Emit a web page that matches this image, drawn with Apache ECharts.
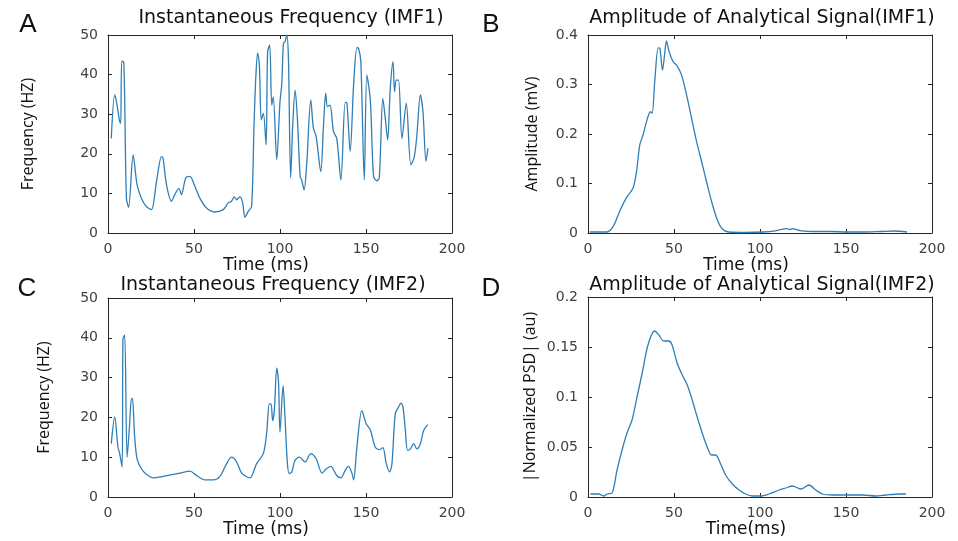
<!DOCTYPE html>
<html>
<head>
<meta charset="utf-8">
<script src="https://cdn.jsdelivr.net/npm/echarts@6/dist/echarts.min.js"></script>
<style>html,body{margin:0;padding:0;background:#fff}#c{width:958px;height:541px}</style>
</head>
<body>
<div id="c"></div>
<script>
// Panel A: Instantaneous Frequency (IMF1)
const timeA = [1.9,3.9,4.9,6.8,7.4,8.0,9.2,10.7,12.0,14.6,16.9,19.4,22.3,25.2,28.2,31.1,32,34,36.9,38.8,41.2,42.7,45.2,47.6,50.5,53.4,57.3,62.1,67.0,69.9,71.8,73.4,74.8,76.7,78.3,79.6,81.6,83.5,84.9,86.0,87.0,88.0,89.1,90.3,91.9,92.8,94.0,95.2,96.1,98.1,100.0,101.0,102.0,102.9,103.9,104.9,106.2,107.4,108.8,110.1,111.7,112.6,114.0,115.5,117.9,119.4,121.0,123.7,125.3,126.6,127.6,129.1,131.1,133.0,135.4,137.9,138.9,140.8,142.8,144.7,145.7,147.0,149.0,150.5,152.5,154.4,156.3,157.7,159.8,161.2,162.6,164.1,165.7,166.6,167.6,168.9,170.9,173.4,176.1,178.1,179.6,181.6,183.1,184.9,186.0];
const freqA = [23.9,34.9,33.2,28.1,27.7,43.4,43.1,8.8,6.5,19.7,12.2,8.8,6.7,5.9,13.0,19.3,18.9,12.2,8.0,9.7,11.2,9.7,13.9,14.3,11.8,8.8,6.3,5.3,5.9,7.6,8.0,9.1,8.4,9.2,7.6,4.0,5.5,6.7,27.3,39.9,45.4,42.4,28.6,30.2,22.3,45.8,47.5,32.3,34.4,18.5,33.2,37.4,47.9,48.3,50,44.1,13.9,27.3,36.1,29.0,14.3,13.4,10.9,17.2,33.6,26.5,24.4,15.5,27.3,35.3,31.9,32.3,25.6,23.9,13.4,33.0,32.8,20.6,37.4,46.8,46.6,43.3,13.4,39.9,33.6,14.3,13.2,13.9,34.0,29.0,23.5,36.5,43.3,35.7,38.6,38.6,23.9,32.8,17.2,19.3,24.8,34.9,30.7,18.1,21.4];

// Panel B: Amplitude of Analytical Signal (IMF1)
const timeB = [1,10.7,14.6,18.4,22.3,26.2,28.2,30.1,32.0,34.0,36.3,37.3,38.8,40.8,41.8,43.3,44.7,45.6,47.2,49.5,51.5,54.4,57.3,60.2,63.1,66.0,68.9,71.8,74.8,77.7,81.6,92.2,102,109.7,115.5,117.1,118.8,123.3,131,140.8,150.5,160.2,169.9,177.7,185.5];
const ampB = [0.002,0.002,0.013,0.044,0.071,0.091,0.124,0.178,0.198,0.225,0.245,0.242,0.306,0.374,0.373,0.329,0.366,0.388,0.366,0.346,0.339,0.319,0.279,0.232,0.185,0.145,0.104,0.064,0.030,0.010,0.002,0.001,0.002,0.005,0.009,0.007,0.009,0.005,0.003,0.003,0.002,0.002,0.003,0.004,0.002];

// Panel C: Instantaneous Frequency (IMF2)
const timeC = [1.9,3.9,5.8,6.8,8.2,8.7,9.7,11.1,12.6,13.6,14.2,15.5,16.9,19.4,22.3,26.2,32.0,41.8,47.6,51.5,56.3,61.2,65.1,69.0,71.8,74.8,77.7,82.5,86.4,90.3,92.2,93.8,94.8,95.7,96.7,98.1,99.1,100.0,101.8,102.9,104.3,105.4,106.8,108.7,111.2,114.6,117.9,121.0,124.5,127.0,129.5,133.0,135.4,137.9,139.8,141.8,142.8,144.7,147.6,150.1,152.5,155.4,157.9,159.8,161.8,163.7,165.1,167.0,168.9,170.3,171.5,172.9,174.2,175.8,177.7,179.6,181.6,183.5,185.9];
const freqC = [13.4,20.1,12.5,10.9,7.5,39.7,40.7,10.0,18.4,24.7,24.7,15.1,9.6,7.1,5.7,4.8,5.2,6.0,6.5,5.4,4.3,4.3,5.2,8.4,10.0,8.8,6.0,4.8,8.4,10.9,15.9,23.4,23.4,19.2,21.7,32.4,29.3,16.3,28.0,20.1,8.4,5.9,6.3,9.2,10.0,8.8,10.9,9.6,6.0,7.1,7.7,5.4,4.8,6.7,7.7,6.0,4.3,12.5,21.7,18.4,16.9,12.5,11.9,12.4,8.4,6.3,8.4,20.9,22.6,23.6,22.6,16.7,11.7,12.1,13.4,12.1,13.4,16.7,18.2];

// Panel D: Amplitude of Analytical Signal (IMF2)
const timeD = [1.4,6.2,9.1,11.1,14.0,16.9,19.8,22.7,25.6,28.5,31.5,34.4,36.9,38.8,41.2,44.1,47.0,48.9,51.8,54.8,57.7,60.6,63.5,66.4,69.3,71.8,74.2,77.1,80.0,83.9,87.8,91.7,95.5,100.4,105.2,111.1,115.0,118.8,123.7,128.5,132.4,136.3,142.1,149.9,159.6,167.4,173.2,181.0,184.9];
const psdD = [0.003,0.003,0.001,0.003,0.004,0.027,0.047,0.064,0.077,0.100,0.124,0.149,0.162,0.166,0.162,0.156,0.156,0.152,0.134,0.122,0.112,0.097,0.080,0.064,0.050,0.042,0.042,0.033,0.022,0.013,0.007,0.003,0.001,0.001,0.003,0.007,0.009,0.011,0.008,0.012,0.007,0.003,0.002,0.002,0.002,0.001,0.002,0.003,0.003];

const xTicks = [0, 50, 100, 150, 200];
const titles = ['Instantaneous Frequency (IMF1)', 'Amplitude of Analytical Signal(IMF1)', 'Instantaneous Frequency (IMF2)', 'Amplitude of Analytical Signal(IMF2)'];
const letters = ['A', 'B', 'C', 'D'];
const yNames = ['Frequency (HZ)', 'Amplitude (mV)', 'Frequency (HZ)', '|Normalized PSD| (au)'];
const xNames = ['Time (ms)', 'Time (ms)', 'Time (ms)', 'Time(ms)'];
const yMax = [50, 0.4, 50, 0.2];
const yStep = [10, 0.1, 10, 0.05];

const grids = [
  {left: 108, top: 35, width: 344, height: 198},
  {left: 588, top: 35, width: 344, height: 198},
  {left: 108, top: 298, width: 344, height: 199},
  {left: 588, top: 297, width: 344, height: 200}
];
const titlePos = [[286, 4], [757, 4], [268, 271], [757, 271]];
const letterPos = [[23, 7], [486, 7], [22, 271], [486, 271]];
const yNameGap = [72, 48, 56, 50];

const lineColor = '#2f7fb6';
const axisColor = '#262626';
const labelStyle = {color: '#404040', fontFamily: 'DejaVu Sans', fontSize: 14};
const nameFont = 'DejaVu Sans';

const xAxes = [], yAxes = [];
grids.forEach((g, i) => {
  const ax = {
    type: 'value', gridIndex: i, min: 0, max: 200, interval: 50,
    axisLine: {show: true, onZero: false, lineStyle: {color: axisColor, width: 1}},
    axisTick: {show: true, inside: true, length: 4, lineStyle: {color: axisColor}},
    splitLine: {show: false}
  };
  xAxes.push(Object.assign({}, ax, {
    position: 'bottom',
    axisLabel: Object.assign({margin: 9}, labelStyle),
    name: xNames[i], nameLocation: 'middle', nameGap: 22,
    nameTextStyle: {fontFamily: nameFont, fontSize: 17, color: '#111', padding: [0, 28, 0, 0]}
  }));
  xAxes.push(Object.assign({}, ax, {position: 'top', axisLabel: {show: false}}));
  const ay = {
    type: 'value', gridIndex: i, min: 0, max: yMax[i], interval: yStep[i],
    axisLine: {show: true, onZero: false, lineStyle: {color: axisColor, width: 1}},
    axisTick: {show: true, inside: true, length: 4, lineStyle: {color: axisColor}},
    splitLine: {show: false}
  };
  yAxes.push(Object.assign({}, ay, {
    position: 'left',
    axisLabel: Object.assign({margin: 10}, labelStyle),
    name: yNames[i], nameLocation: 'middle', nameGap: yNameGap[i],
    nameTextStyle: {fontFamily: 'Open Sans', fontSize: 16, color: '#111'}
  }));
  yAxes.push(Object.assign({}, ay, {position: 'right', axisLabel: {show: false}}));
});

const allX = [timeA, timeB, timeC, timeD];
const allY = [freqA, ampB, freqC, psdD];
const series = allX.map((xs, i) => ({
  type: 'line', xAxisIndex: i * 2, yAxisIndex: i * 2,
  data: xs.map((x, k) => [x, allY[i][k]]),
  showSymbol: false, smooth: 0.3,
  lineStyle: {color: lineColor, width: 1.3},
  itemStyle: {color: lineColor}
}));

const title = titles.map((t, i) => ({
  text: t, left: titlePos[i][0], top: titlePos[i][1], textAlign: 'center',
  textStyle: {fontFamily: nameFont, fontSize: 19, fontWeight: 'normal', color: '#111'}
})).concat(letters.map((t, i) => ({
  text: t, left: letterPos[i][0], top: letterPos[i][1], textAlign: 'center',
  textStyle: {fontFamily: 'Liberation Sans', fontSize: 26, fontWeight: 'normal', color: '#111'}
})));

const chart = echarts.init(document.getElementById('c'));
chart.setOption({
  animation: false,
  backgroundColor: '#fff',
  title: title,
  grid: grids,
  xAxis: xAxes,
  yAxis: yAxes,
  series: series
});
</script>
</body>
</html>
